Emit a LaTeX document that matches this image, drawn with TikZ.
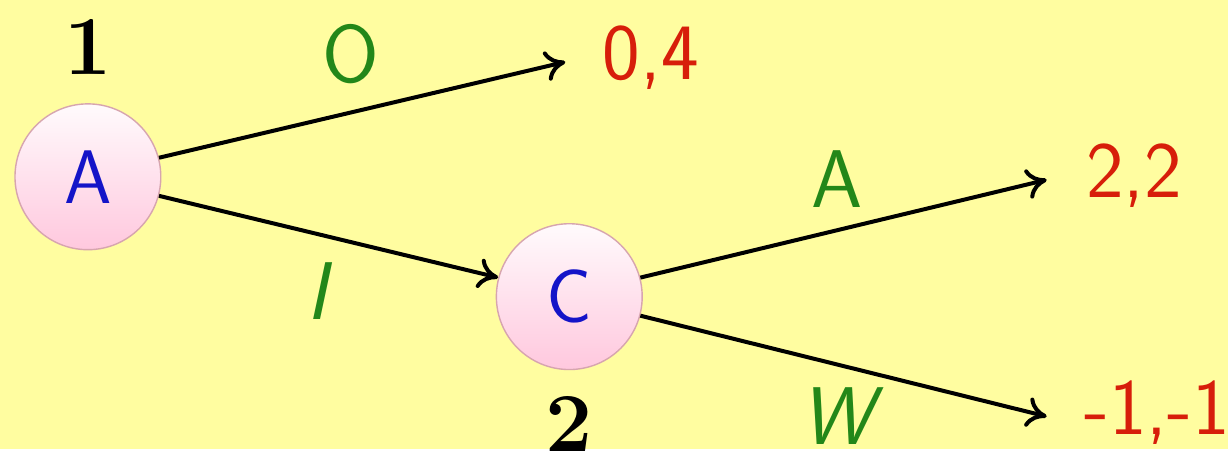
\documentclass[tikz,border=0pt]{standalone}
\usetikzlibrary{arrows.meta,shadings}
\definecolor{bgyellow}{RGB}{255,253,160}
\definecolor{payred}{RGB}{215,30,10}
\definecolor{labgreen}{RGB}{35,135,25}
\definecolor{nodeblue}{RGB}{20,20,200}
\definecolor{circpink}{RGB}{255,200,222}
\definecolor{circedge}{RGB}{215,165,175}
\begin{document}
\begin{tikzpicture}[x=0.5pt,y=-0.5pt,
  gnode/.style={circle,draw=circedge,line width=0.7pt,minimum size=73pt,inner sep=0pt,
    top color=white!92!circpink,bottom color=circpink,text=nodeblue,
    font=\sffamily\fontsize{38}{40}\selectfont},
  pay/.style={text=payred,inner sep=0pt,anchor=base west,font=\sffamily\fontsize{40}{42}\selectfont},
  act/.style={text=labgreen,inner sep=0pt,anchor=base,font=\sffamily\fontsize{41}{43}\selectfont},
  player/.style={inner sep=0pt,anchor=base,font=\rmfamily\bfseries\fontsize{42}{44}\selectfont},
  edge/.style={line width=2pt,-{To[length=10pt,width=15pt]}}]
\fill[bgyellow] (0,0) rectangle (1230,450);
\node[gnode] (A) at (88,177) {A};
\node[gnode] (C) at (570,297) {C};
\node[player] (p1) at (88,75) {1};
\node[player] (p2) at (570,452) {2};
\node[pay] (o1) at (603,80) {0,4};
\node[pay] (o2) at (1087,198) {2,2};
\node[pay] (o3) at (1085,435) {-1,-1};
\coordinate (t1) at (566,62);
\coordinate (t2) at (1048,180);
\coordinate (t3) at (1048,417);
\draw[edge] (A.15) -- (t1);
\draw[edge] (A.-15) -- (C.165);
\draw[edge] (C.15) -- (t2);
\draw[edge] (C.-15) -- (t3);
\node[act] (lO) at (351,83) {O};
\node[act] (lI) at (318,320) {\itshape I};
\node[act] (lA) at (838,208) {A};
\node[act] (lW) at (838,445) {\itshape W};
\end{tikzpicture}
\end{document}
